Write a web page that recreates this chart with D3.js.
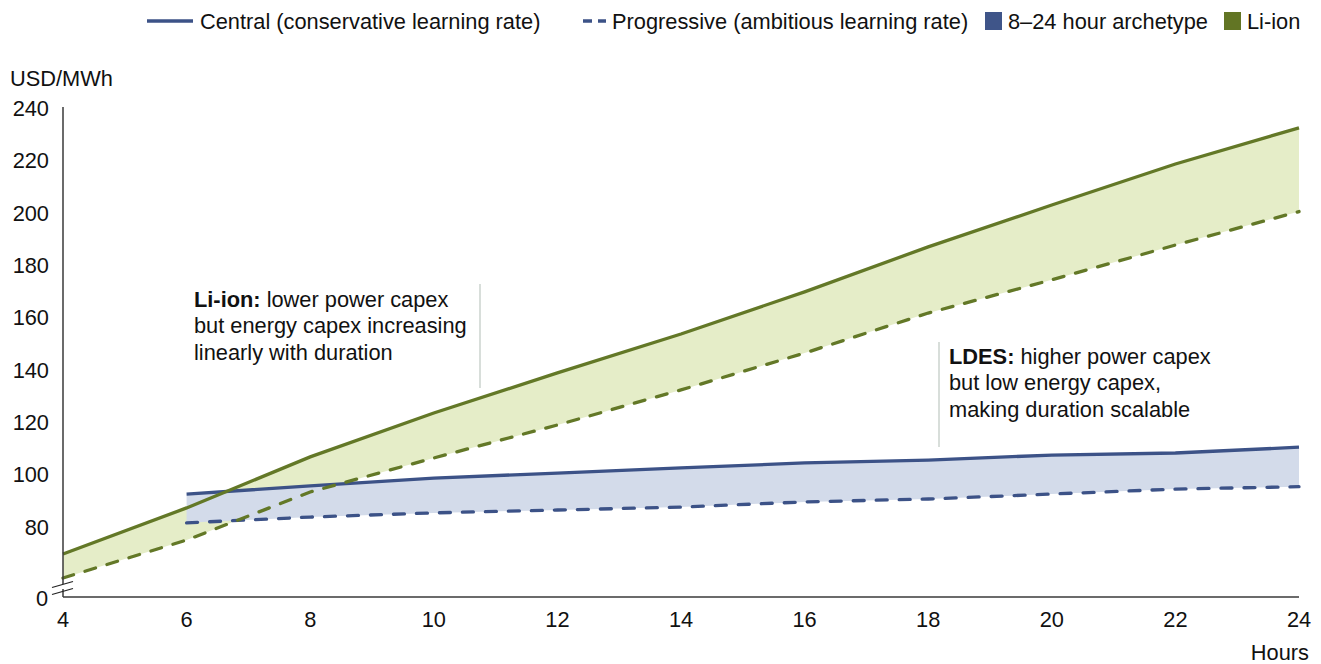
<!DOCTYPE html>
<html>
<head>
<meta charset="utf-8">
<script src="https://cdn.jsdelivr.net/npm/d3@7"></script>
<style>
  html, body { margin: 0; padding: 0; background: #fff; }
  svg { display: block; font-family: "Liberation Sans", Arial, sans-serif; }
</style>
</head>
<body>
<svg id="chart" width="1321" height="664"></svg>
<script>
// Levelised storage cost by discharge duration (USD/MWh)
const hours = [4, 6, 8, 10, 12, 14, 16, 18, 20, 22, 24];
const liionCentral     = [69.7, 87.3, 106.8, 123.6, 138.9, 153.8, 169.9, 187.1, 203.1, 218.8, 232.6];
const liionProgressive = [60.5, 75.0, 93.4, 106.4, 119.0, 132.4, 146.5, 161.8, 174.5, 187.8, 200.6];
const ldesHours        = [6, 8, 10, 12, 14, 16, 18, 20, 22, 24];
const ldesCentral      = [92.6, 95.7, 98.7, 100.6, 102.6, 104.5, 105.6, 107.5, 108.3, 110.5];
const ldesProgressive  = [81.6, 83.8, 85.4, 86.5, 87.6, 89.6, 90.7, 92.6, 94.5, 95.4];
const yTicks = [80, 100, 120, 140, 160, 180, 200, 220, 240];
const xTicks = [4, 6, 8, 10, 12, 14, 16, 18, 20, 22, 24];

const BLUE = "#3c5287", GREEN = "#637827";
const BLUE_FILL = "#d3dbea", GREEN_FILL = "#e5edc8";
const AXIS = "#3a3a3a";
const FS = 21.8;

const svg = d3.select("#chart");
const x = d3.scaleLinear().domain([4, 24]).range([63, 1299]);
const y = d3.scaleLinear().domain([80, 240]).range([527, 108.5]);
const baseY = 597, topY = 107;

const liion = hours.map((h, i) => ({h, c: liionCentral[i], p: liionProgressive[i]}));
const ldes = ldesHours.map((h, i) => ({h, c: ldesCentral[i], p: ldesProgressive[i]}));

const band = d3.area().x(d => x(d.h)).y0(d => y(d.p)).y1(d => y(d.c));
const lineC = d3.line().x(d => x(d.h)).y(d => y(d.c));
const lineP = d3.line().x(d => x(d.h)).y(d => y(d.p));

// shaded ranges between central and progressive cases
svg.append("path").datum(liion).attr("d", band).attr("fill", GREEN_FILL);
svg.append("path").datum(ldes).attr("d", band).attr("fill", BLUE_FILL);

// case lines
const dash = "11,12";
function drawLine(data, gen, color, dashed) {
  svg.append("path").datum(data).attr("d", gen).attr("fill", "none")
    .attr("stroke", color).attr("stroke-width", 3.3)
    .attr("stroke-linecap", dashed ? "round" : "butt")
    .attr("stroke-dasharray", dashed ? dash : null);
}
drawLine(ldes, lineP, BLUE, true);
drawLine(ldes, lineC, BLUE, false);
drawLine(liion, lineP, GREEN, true);
drawLine(liion, lineC, GREEN, false);

// axes
svg.append("line").attr("x1", 63).attr("x2", 63).attr("y1", topY).attr("y2", baseY)
  .attr("stroke", AXIS).attr("stroke-width", 1.5);
svg.append("line").attr("x1", 63).attr("x2", 1299).attr("y1", baseY).attr("y2", baseY)
  .attr("stroke", AXIS).attr("stroke-width", 1.5);

// axis break marks
svg.append("rect").attr("x", 61).attr("y", 584).attr("width", 4).attr("height", 5).attr("fill", "#fff");
svg.selectAll(".brk").data([584.5, 591.5]).enter().append("line")
  .attr("x1", 52).attr("x2", 73).attr("y1", d => d + 3).attr("y2", d => d - 3)
  .attr("stroke", "#222").attr("stroke-width", 1.2);

// y tick labels
svg.selectAll(".yt").data(yTicks).enter().append("text")
  .attr("x", 49).attr("y", d => y(d)).attr("dy", "0.35em")
  .attr("text-anchor", "end").attr("font-size", FS).attr("fill", "#111")
  .text(d => d);
svg.append("text").attr("x", 48).attr("y", baseY + 1).attr("dy", "0.35em")
  .attr("text-anchor", "end").attr("font-size", FS).attr("fill", "#111").text("0");

// x tick labels
svg.selectAll(".xt").data(xTicks).enter().append("text")
  .attr("x", d => x(d)).attr("y", 627)
  .attr("text-anchor", "middle").attr("font-size", FS).attr("fill", "#111")
  .text(d => d);

svg.append("text").attr("x", 1309).attr("y", 660).attr("text-anchor", "end")
  .attr("font-size", FS).attr("fill", "#111").text("Hours");
svg.append("text").attr("x", 10).attr("y", 86)
  .attr("font-size", FS).attr("fill", "#111").text("USD/MWh");

// annotations
function note(x0, y0, bold, lines) {
  const t = svg.append("text").attr("x", x0).attr("y", y0).attr("font-size", FS).attr("fill", "#111");
  lines.forEach((ln, i) => {
    const ts = t.append("tspan").attr("x", x0).attr("dy", i === 0 ? 0 : 26.3);
    if (i === 0) {
      ts.append("tspan").attr("font-weight", "bold").text(bold);
      ts.append("tspan").text(ln);
    } else ts.text(ln);
  });
}
note(194, 307, "Li-ion:", [" lower power capex", "but energy capex increasing", "linearly with duration"]);
note(949, 364, "LDES:", [" higher power capex", "but low energy capex,", "making duration scalable"]);
svg.append("line").attr("x1", 480).attr("x2", 480).attr("y1", 284).attr("y2", 388)
  .attr("stroke", "#c3cdc6").attr("stroke-width", 1.3);
svg.append("line").attr("x1", 939).attr("x2", 939).attr("y1", 342).attr("y2", 447)
  .attr("stroke", "#c3cdc6").attr("stroke-width", 1.3);

// legend
const ly = 21;
const lg = svg.append("g");
lg.append("line").attr("x1", 147).attr("x2", 193).attr("y1", ly).attr("y2", ly)
  .attr("stroke", BLUE).attr("stroke-width", 3.3);
lg.append("text").attr("x", 200).attr("y", ly).attr("dy", "0.35em").attr("font-size", FS)
  .attr("fill", "#111").text("Central (conservative learning rate)");
lg.append("line").attr("x1", 583).attr("x2", 606).attr("y1", ly).attr("y2", ly)
  .attr("stroke", BLUE).attr("stroke-width", 3.3).attr("stroke-dasharray", "9,6");
lg.append("text").attr("x", 612).attr("y", ly).attr("dy", "0.35em").attr("font-size", FS)
  .attr("fill", "#111").text("Progressive (ambitious learning rate)");
lg.append("rect").attr("x", 985).attr("y", ly - 9).attr("width", 17).attr("height", 18).attr("fill", "#3f5589");
lg.append("text").attr("x", 1008).attr("y", ly).attr("dy", "0.35em").attr("font-size", FS)
  .attr("fill", "#111").text("8–24 hour archetype");
lg.append("rect").attr("x", 1224).attr("y", ly - 9).attr("width", 17).attr("height", 18).attr("fill", "#627524");
lg.append("text").attr("x", 1247).attr("y", ly).attr("dy", "0.35em").attr("font-size", FS)
  .attr("fill", "#111").text("Li-ion");
</script>
</body>
</html>
